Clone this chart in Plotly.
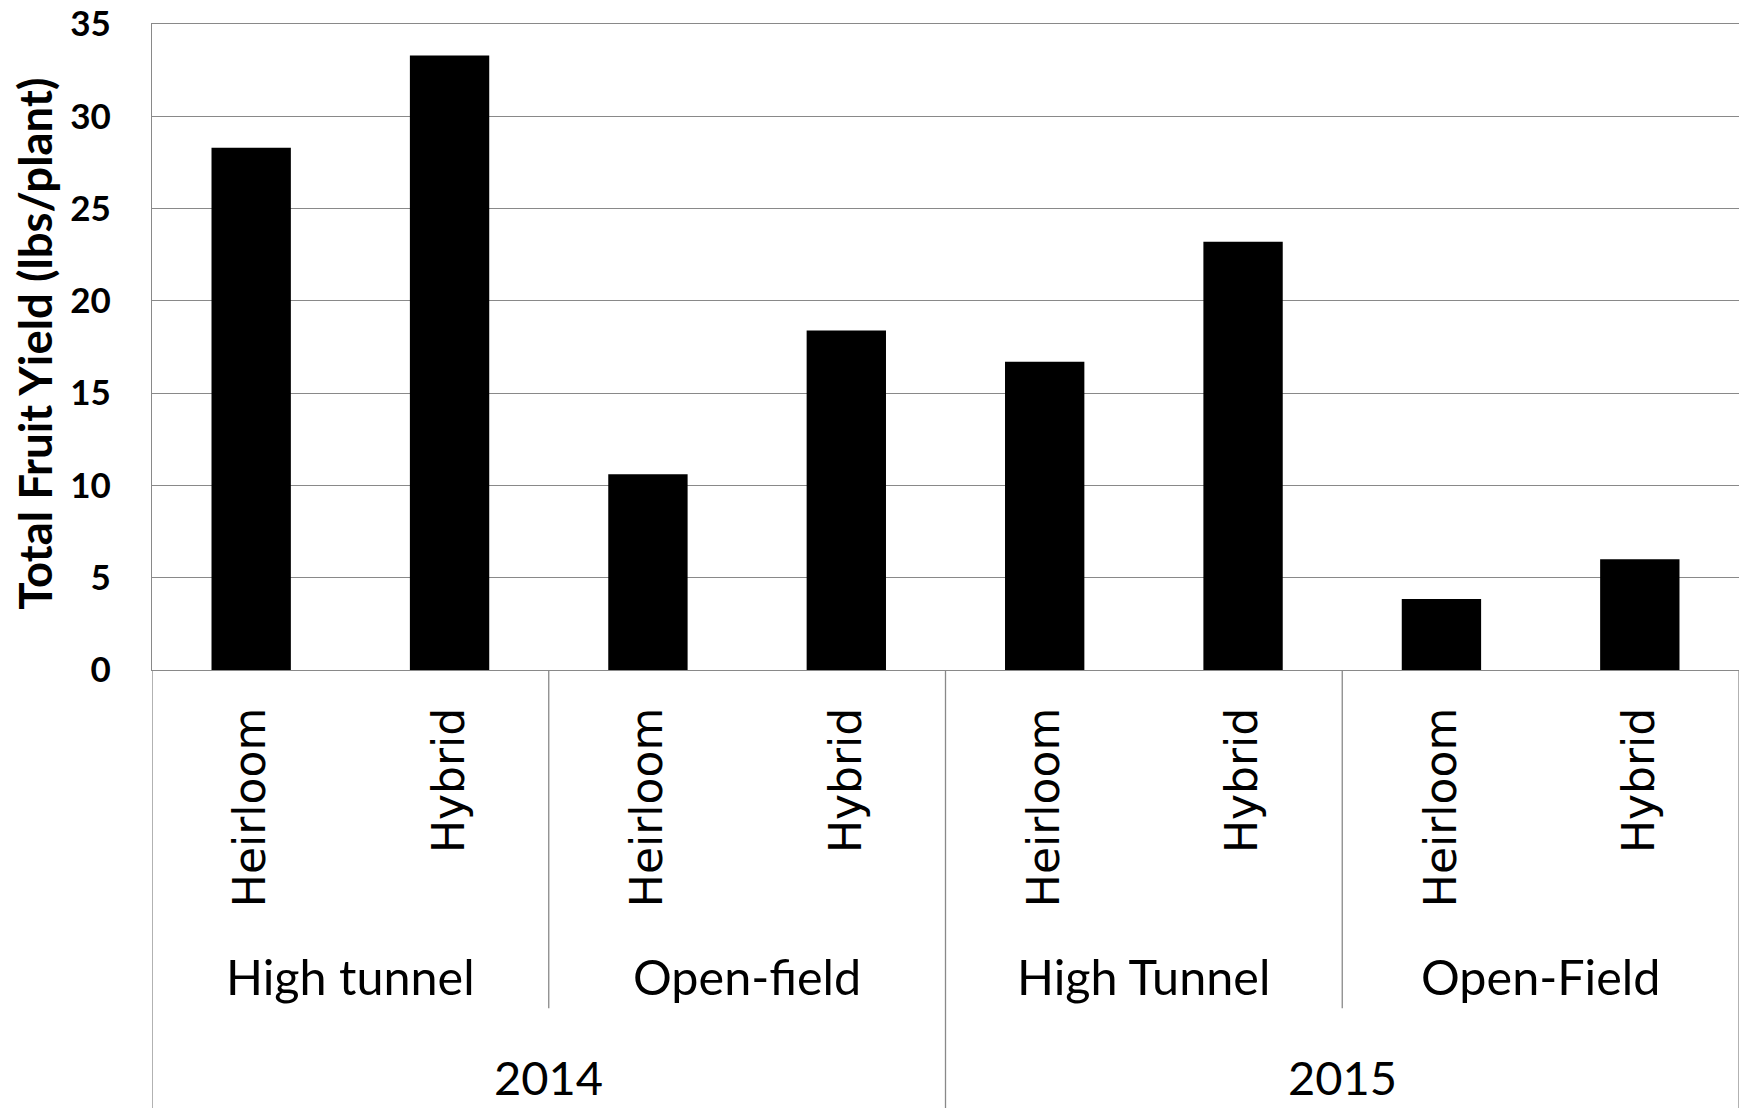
import plotly.graph_objects as go

# ---- data ----
years = ["2014", "2015"]
systems = ["High tunnel", "Open-field", "High Tunnel", "Open-Field"]
varieties = ["Heirloom", "Hybrid", "Heirloom", "Hybrid",
             "Heirloom", "Hybrid", "Heirloom", "Hybrid"]
yield_lbs = [28.3, 33.3, 10.6, 18.4, 16.7, 23.2, 3.85, 6.0]
y_tick_vals = [0, 5, 10, 15, 20, 25, 30, 35]
y_title = "Total Fruit Yield (lbs/plant)"

GRID = "#898989"
FONT_V = "DejaVu Sans"   # Verdana-like rotated labels
FONT_C = "Lato"          # Calibri-like text

x_pos = list(range(len(varieties)))

fig = go.Figure()
fig.add_trace(go.Bar(
    x=x_pos, y=yield_lbs,
    marker=dict(color="black", line=dict(width=0)),
    showlegend=False,
))

W, HT = 1750, 1108
L, R, T = 152, 11, 24
ZERO = 670.5                 # pixel of y = 0
B = HT - ZERO
H = ZERO - T                 # plot height in px


def py(pix):
    """page pixel y -> paper y"""
    return (ZERO - pix) / H


shapes = []
n_per_sys = len(varieties) // len(systems)
n_per_year = len(varieties) // len(years)
# system dividers (shorter)
for k in range(1, len(systems)):
    if (k * n_per_sys) % n_per_year == 0:
        continue
    xd = k * n_per_sys - 0.5
    shapes.append(dict(type="line", xref="x", yref="paper", x0=xd, x1=xd,
                       y0=0, y1=py(1009), line=dict(color=GRID, width=1.3)))
# year dividers (full height to bottom)
for k in range(len(years) + 1):
    xd = k * n_per_year - 0.5
    shapes.append(dict(type="line", xref="x", yref="paper", x0=xd, x1=xd,
                       y0=0 if 0 < k < len(years) else py(671), y1=py(1115),
                       line=dict(color=GRID, width=1.3)))

annotations = []
for i, s in enumerate(systems):
    annotations.append(dict(
        x=i * n_per_sys + (n_per_sys - 1) / 2, y=py(977), xref="x", yref="paper",
        text=s, showarrow=False, yanchor="middle", xanchor="center",
        font=dict(family=FONT_C, size=48.5, color="black")))
for i, yr in enumerate(years):
    annotations.append(dict(
        x=i * n_per_year + (n_per_year - 1) / 2, y=py(1078), xref="x", yref="paper",
        text=yr, showarrow=False, yanchor="middle", xanchor="center",
        font=dict(family=FONT_C, size=47, color="black")))
annotations.append(dict(
    x=(35 - L) / (W - L - R), y=py(344), xref="paper", yref="paper",
    text=y_title, showarrow=False, textangle=-90,
    xanchor="center", yanchor="middle",
    font=dict(family=FONT_C, size=45.5, color="black", weight="bold")))

fig.update_layout(
    width=W, height=HT,
    margin=dict(l=L, r=R, t=T, b=B),
    paper_bgcolor="white", plot_bgcolor="white",
    bargap=0.6,
    shapes=shapes,
    annotations=annotations,
    xaxis=dict(
        range=[-0.5, len(varieties) - 0.5],
        tickmode="array", tickvals=x_pos, ticktext=varieties,
        tickangle=-90,
        tickfont=dict(family=FONT_V, size=44, color="black"),
        ticks="", ticklabelstandoff=19,
        showgrid=False, zeroline=False,
        showline=True, mirror=True, linecolor=GRID, linewidth=1.3,
        automargin=False, fixedrange=True,
    ),
    yaxis=dict(
        range=[0, 35],
        tickmode="array", tickvals=y_tick_vals,
        tickfont=dict(family=FONT_C, size=35, color="black", weight="bold"),
        ticks="", ticklabelstandoff=33, ticklabeloverflow="allow",
        showgrid=True, gridcolor=GRID, gridwidth=1.3,
        zeroline=False,
        showline=True, linecolor=GRID, linewidth=1.3,
        automargin=False, fixedrange=True,
    ),
)

fig.write_html(
    "out.html",
    config={"displayModeBar": False},
    post_script="document.body.style.margin='0';document.body.style.overflow='hidden';",
)
